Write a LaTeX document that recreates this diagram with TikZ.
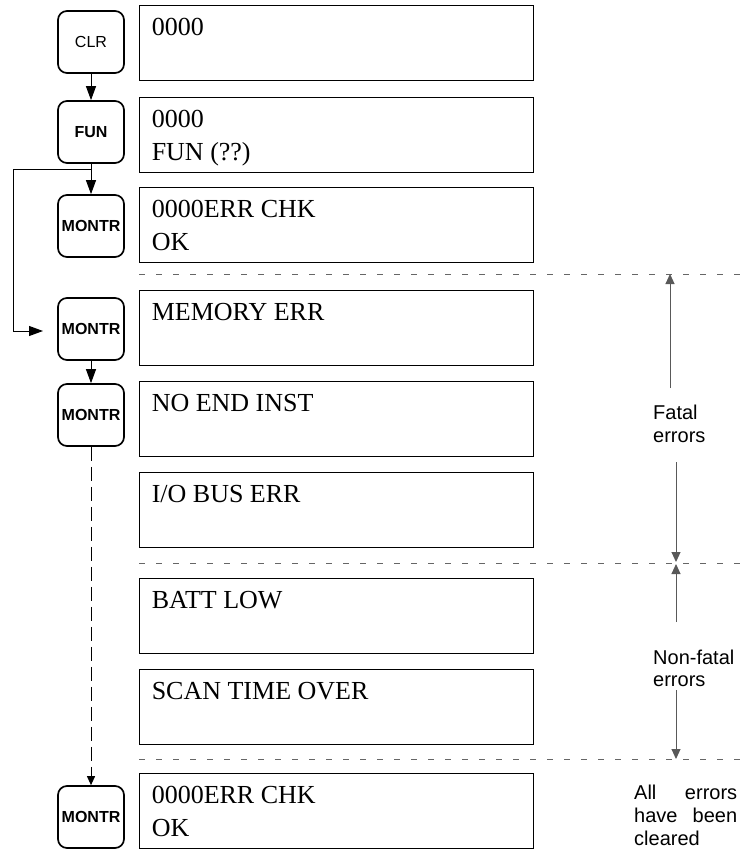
\documentclass[tikz,border=0pt]{standalone}
\usepackage{fontspec}
\setmainfont{Liberation Serif}
\setsansfont{Liberation Sans}
\usetikzlibrary{arrows.meta}
\begin{document}
\begin{tikzpicture}[x=1pt,y=-1pt,
 key/.style={draw,line width=1.7pt,rounded corners=9pt,minimum width=66pt,minimum height=62pt,inner sep=0pt,font=\sffamily\fontsize{16}{18}\selectfont\bfseries},
 keyreg/.style={key,font=\sffamily\fontsize{16}{18}\selectfont},
 disp/.style={draw,line width=0.9pt,minimum width=394pt,minimum height=75pt,inner sep=0pt},
 dtext/.style={anchor=base west,inner sep=0pt,font=\fontsize{26}{31}\selectfont},
 side/.style={anchor=base west,inner sep=0pt,font=\sffamily\fontsize{20}{24}\selectfont},
 arr/.style={-{Triangle[length=14pt,width=10pt]},line width=1pt},
 sepline/.style={draw=black!60,line width=0.9pt,dash pattern=on 6pt off 11pt},
 garr/.style={draw=black!65,line width=1pt,-{Triangle[length=10pt,width=9pt]}}
]
\useasboundingbox (0,0) rectangle (742,850);

% display boxes
\node[disp] (b1) at (336,42.5) {};
\node[disp] (b2) at (336,134.5) {};
\node[disp] (b3) at (336,224.5) {};
\node[disp] (b4) at (336,327.5) {};
\node[disp] (b5) at (336,418.5) {};
\node[disp] (b6) at (336,509.5) {};
\node[disp] (b7) at (336,615.5) {};
\node[disp] (b8) at (336,706.5) {};
\node[disp] (b9) at (336,810.5) {};

\node[dtext] (t1a) at ([xshift=13pt,yshift=-31pt]b1.north west) {0000};
\node[dtext] (t2a) at ([xshift=13pt,yshift=-31pt]b2.north west) {0000};
\node[dtext] (t2b) at ([xshift=13pt,yshift=-64pt]b2.north west) {FUN (??)};
\node[dtext] (t3a) at ([xshift=13pt,yshift=-31pt]b3.north west) {0000ERR CHK};
\node[dtext] (t3b) at ([xshift=13pt,yshift=-64pt]b3.north west) {OK};
\node[dtext] (t4a) at ([xshift=13pt,yshift=-31pt]b4.north west) {MEMORY ERR};
\node[dtext] (t5a) at ([xshift=13pt,yshift=-31pt]b5.north west) {NO END INST};
\node[dtext] (t6a) at ([xshift=13pt,yshift=-31pt]b6.north west) {I/O BUS ERR};
\node[dtext] (t7a) at ([xshift=13pt,yshift=-31pt]b7.north west) {BATT LOW};
\node[dtext] (t8a) at ([xshift=13pt,yshift=-31pt]b8.north west) {SCAN TIME OVER};
\node[dtext] (t9a) at ([xshift=13pt,yshift=-31pt]b9.north west) {0000ERR CHK};
\node[dtext] (t9b) at ([xshift=13pt,yshift=-64pt]b9.north west) {OK};

% keys
\node[keyreg] (k1) at (91,42) {CLR};
\node[key] (k2) at (91,132) {FUN};
\node[key] (k3) at (91,226) {MONTR};
\node[key] (k4) at (91,329) {MONTR};
\node[key] (k5) at (91,415) {MONTR};
\node[key] (k6) at (91,817) {MONTR};

\draw[arr] (k1) -- (k2);
\draw[arr] (k2) -- (k3);
\draw[arr] (k4) -- (k5);
\draw[-{Triangle[length=9pt,width=8pt]},line width=1pt,dash pattern=on 14pt off 6pt] (k5) -- (k6);

% feedback loop
\coordinate (fbA) at (91,170);
\coordinate (fbL) at (13,170);
\coordinate (fbB) at (43,331);
\draw[arr] (fbA) -- (fbL) |- (fbB);

% separators
\coordinate (d1a) at (139,274); \coordinate (d1b) at (742,274);
\coordinate (d2a) at (139,563); \coordinate (d2b) at (742,563);
\coordinate (d3a) at (139,759); \coordinate (d3b) at (742,759);
\draw[sepline] (d1a) -- (d1b);
\draw[sepline] (d2a) -- (d2b);
\draw[sepline] (d3a) -- (d3b);

% side labels
\node[side] (f1) at (653,419) {Fatal};
\node[side] (f2) at (653,442) {errors};
\node[side] (n1) at (653,664) {Non-fatal};
\node[side] (n2) at (653,686) {errors};
\node[side] (c1) at (634,799) {\makebox[103pt][l]{All\hfill errors}};
\node[side] (c2) at (634,822) {\makebox[103pt][l]{have\hfill been}};
\node[side] (c3) at (634,845) {cleared};

\coordinate (fa1) at (670,388); \coordinate (fa2) at (670,274);
\coordinate (fb1) at (676,462); \coordinate (fb2) at (676,562);
\coordinate (na1) at (676,622); \coordinate (na2) at (676,564);
\coordinate (nb1) at (676,690); \coordinate (nb2) at (676,759);
\draw[garr] (fa1) -- (fa2);
\draw[garr] (fb1) -- (fb2);
\draw[garr] (na1) -- (na2);
\draw[garr] (nb1) -- (nb2);
\end{tikzpicture}
\end{document}
